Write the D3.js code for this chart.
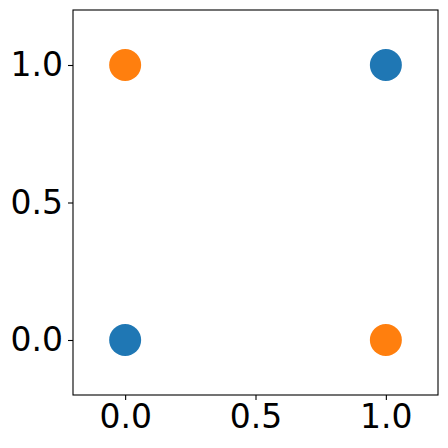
<!DOCTYPE html>
<html>
<head>
<meta charset="utf-8">
<script src="https://cdn.jsdelivr.net/npm/d3@7"></script>
<style>
  body { margin: 0; background: #fff; }
  svg text { font-family: "DejaVu Sans", sans-serif; }
</style>
</head>
<body>
<svg id="chart" width="448" height="448"></svg>
<script>
// data
const blueX = [0, 1];
const blueY = [0, 1];
const orangeX = [0, 1];
const orangeY = [1, 0];
const xTicks = [0.0, 0.5, 1.0];
const yTicks = [0.0, 0.5, 1.0];

const series = [
    { color: "#1f77b4", xs: blueX, ys: blueY },
    { color: "#ff7f0e", xs: orangeX, ys: orangeY }
];

const svg = d3.select("#chart");
const margin = { left: 73, top: 10, right: 10, bottom: 53 };
const width = 448 - margin.left - margin.right;
const height = 448 - margin.top - margin.bottom;

const x = d3.scaleLinear().domain([-0.2, 1.2]).range([0, width]);
const y = d3.scaleLinear().domain([-0.2, 1.2]).range([height, 0]);

const g = svg.append("g").attr("transform", `translate(${margin.left},${margin.top})`);

// points
series.forEach(s => {
    g.selectAll(null)
        .data(s.xs.map((v, i) => [v, s.ys[i]]))
        .join("circle")
        .attr("cx", d => x(d[0]))
        .attr("cy", d => y(d[1]))
        .attr("r", 16)
        .attr("fill", s.color);
});

// axes
const xAxis = g.append("g")
    .attr("transform", `translate(0,${height})`)
    .call(d3.axisBottom(x).tickValues(xTicks).tickFormat(d3.format(".1f")).tickSize(5).tickPadding(5));
const yAxis = g.append("g")
    .call(d3.axisLeft(y).tickValues(yTicks).tickFormat(d3.format(".1f")).tickSize(5).tickPadding(5));

[xAxis, yAxis].forEach(a => {
    a.select(".domain").remove();
    a.selectAll("line").attr("stroke", "#000").attr("stroke-width", 1.1);
    a.selectAll("text").attr("font-size", 33).attr("fill", "#000")
        .attr("font-family", "DejaVu Sans, sans-serif");
});

// frame
g.append("rect")
    .attr("width", width).attr("height", height)
    .attr("fill", "none").attr("stroke", "#000").attr("stroke-width", 1.1);
</script>
</body>
</html>
